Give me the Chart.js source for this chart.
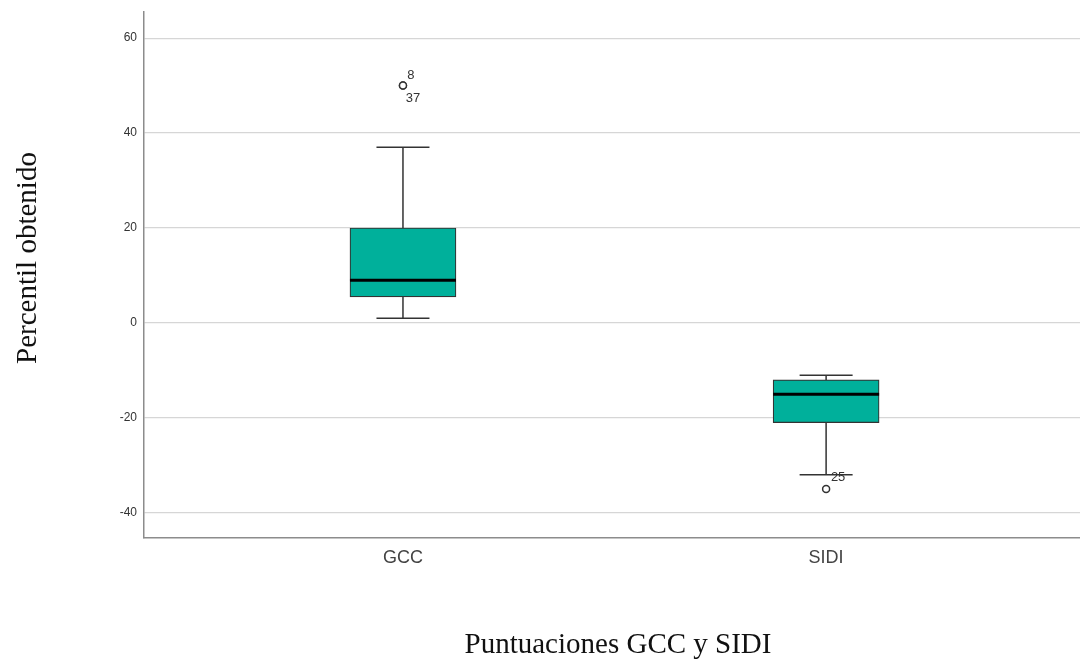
<!DOCTYPE html>
<html>
<head>
<meta charset="utf-8">
<script src="https://cdn.jsdelivr.net/npm/chart.js@4/dist/chart.umd.min.js"></script>
<style>
  html, body { margin: 0; padding: 0; background: #fff; overflow: hidden; }
  canvas { display: block; }
</style>
</head>
<body>
<canvas id="boxChart" width="1080" height="660"></canvas>
<script>
// Box plot values per group
const categories = ["GCC", "SIDI"];
const whiskerLow = [1, -32];
const q1 = [5.5, -21];
const median = [9, -15];
const q3 = [20, -12];
const whiskerHigh = [37, -11];

// Outliers: group index, value, case label
const outlierGroup = [0, 0, 1];
const outlierValues = [50, 50, -35];
const outlierIds = ["8", "37", "25"];

const yTicks = [-40, -20, 0, 20, 40, 60];

const BOX_COLOR = "#00b09b";
const LINE_COLOR = "#333333";
const BOX_WIDTH = 106;

// Draw whiskers, caps and medians with the chart scales
const boxParts = {
  id: "boxParts",
  afterDatasetsDraw(chart) {
    const { ctx, scales: { x, y } } = chart;
    ctx.save();
    categories.forEach((c, i) => {
      const cx = x.getPixelForValue(i);
      const capHalf = BOX_WIDTH / 4;
      ctx.strokeStyle = LINE_COLOR;
      ctx.lineWidth = 1.5;
      ctx.beginPath();
      // upper whisker
      ctx.moveTo(cx, y.getPixelForValue(q3[i]));
      ctx.lineTo(cx, y.getPixelForValue(whiskerHigh[i]));
      // lower whisker
      ctx.moveTo(cx, y.getPixelForValue(q1[i]));
      ctx.lineTo(cx, y.getPixelForValue(whiskerLow[i]));
      // caps
      ctx.moveTo(cx - capHalf, y.getPixelForValue(whiskerHigh[i]));
      ctx.lineTo(cx + capHalf, y.getPixelForValue(whiskerHigh[i]));
      ctx.moveTo(cx - capHalf, y.getPixelForValue(whiskerLow[i]));
      ctx.lineTo(cx + capHalf, y.getPixelForValue(whiskerLow[i]));
      ctx.stroke();
      // median
      ctx.strokeStyle = "#000";
      ctx.lineWidth = 3;
      ctx.beginPath();
      ctx.moveTo(cx - BOX_WIDTH / 2, y.getPixelForValue(median[i]));
      ctx.lineTo(cx + BOX_WIDTH / 2, y.getPixelForValue(median[i]));
      ctx.stroke();
    });
    ctx.restore();
  },
};

// Case labels next to outliers
const labelOffsets = [[8, -10], [10, 13], [12, -12]];
const outlierLabels = {
  id: "outlierLabels",
  afterDatasetsDraw(chart) {
    const { ctx, scales: { x, y } } = chart;
    ctx.save();
    ctx.font = "13px 'Liberation Sans', Arial, sans-serif";
    ctx.fillStyle = "#333";
    ctx.textAlign = "center";
    ctx.textBaseline = "middle";
    outlierIds.forEach((id, k) => {
      const px = x.getPixelForValue(outlierGroup[k]) + labelOffsets[k][0];
      const py = y.getPixelForValue(outlierValues[k]) + labelOffsets[k][1];
      ctx.fillText(id, px, py);
    });
    ctx.restore();
  },
};

// Axis titles in serif font
const axisTitles = {
  id: "axisTitles",
  afterDraw(chart) {
    const { ctx } = chart;
    ctx.save();
    ctx.font = "29px 'Liberation Serif', 'Times New Roman', serif";
    ctx.fillStyle = "#111";
    ctx.textAlign = "center";
    ctx.textBaseline = "middle";
    ctx.fillText("Puntuaciones GCC y SIDI", 618, 645);
    ctx.translate(28, 258);
    ctx.rotate(-Math.PI / 2);
    ctx.fillText("Percentil obtenido", 0, 0);
    ctx.restore();
  },
};

const ctx = document.getElementById("boxChart").getContext("2d");
new Chart(ctx, {
  type: "bar",
  data: {
    datasets: [
      {
        label: "Caja",
        data: categories.map((c, i) => ({ x: i, y: [q1[i], q3[i]] })),
        backgroundColor: BOX_COLOR,
        borderColor: LINE_COLOR,
        borderWidth: 1.2,
        borderSkipped: false,
        barThickness: BOX_WIDTH,
        order: 2,
      },
      {
        type: "scatter",
        label: "Atípicos",
        data: outlierValues.map((v, k) => ({ x: outlierGroup[k], y: v })),
        pointStyle: "circle",
        pointRadius: 3.5,
        pointBorderWidth: 1.5,
        pointBackgroundColor: "#fff",
        pointBorderColor: LINE_COLOR,
        order: 1,
      },
    ],
  },
  options: {
    responsive: false,
    animation: false,
    layout: { autoPadding: false, padding: { top: 12, right: 0, left: 0, bottom: 0 } },
    plugins: {
      legend: { display: false },
      tooltip: { enabled: false },
    },
    scales: {
      x: {
        type: "linear",
        offset: false,
        min: -0.612,
        max: 1.6,
        afterBuildTicks: (scale) => {
          scale.ticks = categories.map((c, i) => ({ value: i }));
        },
        afterFit: (scale) => {
          scale.height = 122;
          scale.paddingLeft = 0;
          scale.paddingRight = 0;
        },
        ticks: {
          callback: (v) => categories[v],
          font: { family: "'Liberation Sans', Arial, sans-serif", size: 18 },
          color: "#444",
          padding: 9,
          maxRotation: 0,
        },
        grid: { display: false, drawTicks: false },
        border: { display: true, color: "#8c8c8c", width: 1.5 },
      },
      y: {
        min: -45.3,
        max: 65.5,
        afterBuildTicks: (scale) => {
          scale.ticks = yTicks.map((v) => ({ value: v }));
        },
        afterFit: (scale) => {
          scale.width = 144;
          scale.paddingTop = 0;
          scale.paddingBottom = 0;
        },
        ticks: {
          font: { family: "'Liberation Sans', Arial, sans-serif", size: 12 },
          color: "#333",
          padding: 7,
        },
        grid: { color: "#d6d6d6", lineWidth: 1.2, drawTicks: false },
        border: { display: true, color: "#8c8c8c", width: 1.5 },
      },
    },
  },
  plugins: [boxParts, outlierLabels, axisTitles],
});
</script>
</body>
</html>
